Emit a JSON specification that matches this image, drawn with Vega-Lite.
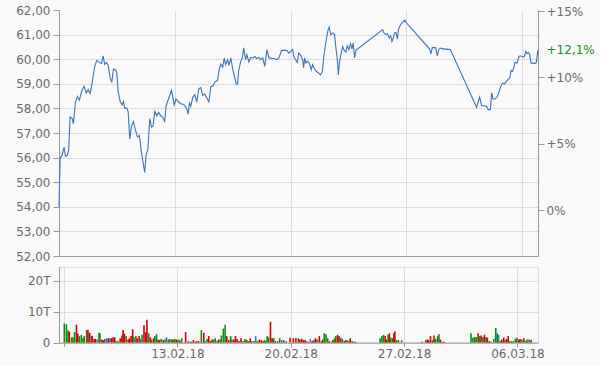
{
  "$schema": "https://vega.github.io/schema/vega-lite/v6.json",
  "background": "#f9f9f9",
  "padding": {"left": 15, "top": 4, "right": 5, "bottom": 5},
  "spacing": 4,
  "config": {
    "font": "DejaVu Sans",
    "view": {"stroke": null},
    "axis": {"labelFont": "DejaVu Sans", "labelFontSize": 12, "labelColor": "#6a6a6a", "gridColor": "#dcdcdc", "domainColor": "#999999", "tickColor": "#999999", "title": null, "labelPadding": 3, "tickSize": 6}
  },
  "datasets": {
    "price": [
      {"day": 0.0, "price": 54.0}, {"day": 0.07, "price": 56.0}, {"day": 0.19, "price": 56.1}, {"day": 0.31, "price": 56.43}, {"day": 0.39, "price": 56.05}, {"day": 0.51, "price": 56.1}, {"day": 0.59, "price": 56.32}, {"day": 0.67, "price": 57.65}, {"day": 0.79, "price": 57.6}, {"day": 0.87, "price": 57.38}, {"day": 0.99, "price": 58.24}, {"day": 1.11, "price": 58.49}, {"day": 1.23, "price": 58.33}, {"day": 1.4, "price": 58.76}, {"day": 1.52, "price": 58.9}, {"day": 1.64, "price": 58.63}, {"day": 1.76, "price": 58.76}, {"day": 1.88, "price": 58.6}, {"day": 2.0, "price": 59.03}, {"day": 2.16, "price": 59.71}, {"day": 2.28, "price": 59.95}, {"day": 2.44, "price": 59.87}, {"day": 2.57, "price": 59.82}, {"day": 2.67, "price": 60.14}, {"day": 2.76, "price": 59.79}, {"day": 2.87, "price": 59.87}, {"day": 2.97, "price": 59.77}, {"day": 3.09, "price": 59.24}, {"day": 3.19, "price": 59.06}, {"day": 3.29, "price": 59.6}, {"day": 3.41, "price": 59.57}, {"day": 3.49, "price": 59.46}, {"day": 3.58, "price": 58.69}, {"day": 3.7, "price": 58.28}, {"day": 3.82, "price": 58.15}, {"day": 3.9, "price": 58.28}, {"day": 3.97, "price": 58.01}, {"day": 4.1, "price": 58.01}, {"day": 4.18, "price": 57.88}, {"day": 4.28, "price": 56.76}, {"day": 4.38, "price": 57.27}, {"day": 4.5, "price": 57.47}, {"day": 4.62, "price": 57.13}, {"day": 4.74, "price": 56.84}, {"day": 4.86, "price": 56.9}, {"day": 4.99, "price": 56.19}, {"day": 5.09, "price": 55.78}, {"day": 5.18, "price": 55.4}, {"day": 5.27, "price": 56.12}, {"day": 5.37, "price": 56.32}, {"day": 5.49, "price": 57.59}, {"day": 5.59, "price": 57.24}, {"day": 5.69, "price": 57.29}, {"day": 5.79, "price": 57.88}, {"day": 5.91, "price": 57.7}, {"day": 6.03, "price": 57.84}, {"day": 6.15, "price": 57.7}, {"day": 6.27, "price": 57.65}, {"day": 6.39, "price": 57.47}, {"day": 6.47, "price": 58.08}, {"day": 6.6, "price": 58.35}, {"day": 6.8, "price": 58.73}, {"day": 6.88, "price": 58.46}, {"day": 6.96, "price": 58.15}, {"day": 7.08, "price": 58.38}, {"day": 7.21, "price": 58.28}, {"day": 7.36, "price": 58.18}, {"day": 7.48, "price": 58.18}, {"day": 7.6, "price": 58.12}, {"day": 7.73, "price": 57.98}, {"day": 7.81, "price": 57.77}, {"day": 7.89, "price": 58.22}, {"day": 7.97, "price": 58.1}, {"day": 8.09, "price": 58.45}, {"day": 8.21, "price": 58.56}, {"day": 8.33, "price": 58.26}, {"day": 8.45, "price": 58.8}, {"day": 8.57, "price": 58.85}, {"day": 8.69, "price": 58.53}, {"day": 8.81, "price": 58.58}, {"day": 8.94, "price": 58.42}, {"day": 9.06, "price": 58.26}, {"day": 9.18, "price": 58.9}, {"day": 9.3, "price": 58.9}, {"day": 9.42, "price": 59.07}, {"day": 9.58, "price": 59.13}, {"day": 9.7, "price": 59.64}, {"day": 9.78, "price": 59.8}, {"day": 9.9, "price": 59.67}, {"day": 9.99, "price": 60.05}, {"day": 10.07, "price": 59.78}, {"day": 10.19, "price": 59.98}, {"day": 10.27, "price": 59.75}, {"day": 10.39, "price": 60.05}, {"day": 10.51, "price": 59.57}, {"day": 10.63, "price": 59.24}, {"day": 10.71, "price": 58.99}, {"day": 10.79, "price": 58.99}, {"day": 10.87, "price": 59.57}, {"day": 10.99, "price": 59.91}, {"day": 11.08, "price": 60.05}, {"day": 11.17, "price": 60.46}, {"day": 11.28, "price": 59.98}, {"day": 11.36, "price": 60.18}, {"day": 11.48, "price": 59.89}, {"day": 11.6, "price": 60.07}, {"day": 11.72, "price": 60.05}, {"day": 11.84, "price": 60.11}, {"day": 11.96, "price": 60.03}, {"day": 12.08, "price": 60.07}, {"day": 12.2, "price": 59.98}, {"day": 12.32, "price": 60.05}, {"day": 12.44, "price": 59.71}, {"day": 12.57, "price": 60.39}, {"day": 12.69, "price": 60.07}, {"day": 12.85, "price": 60.03}, {"day": 13.01, "price": 60.03}, {"day": 13.17, "price": 59.98}, {"day": 13.29, "price": 60.05}, {"day": 13.46, "price": 60.35}, {"day": 13.62, "price": 60.37}, {"day": 13.78, "price": 60.35}, {"day": 13.9, "price": 60.25}, {"day": 14.0, "price": 60.32}, {"day": 14.12, "price": 60.39}, {"day": 14.2, "price": 60.11}, {"day": 14.28, "price": 60.0}, {"day": 14.41, "price": 59.87}, {"day": 14.49, "price": 60.25}, {"day": 14.6, "price": 60.18}, {"day": 14.73, "price": 59.98}, {"day": 14.79, "price": 59.64}, {"day": 14.85, "price": 60.05}, {"day": 14.93, "price": 59.84}, {"day": 15.01, "price": 59.91}, {"day": 15.13, "price": 59.84}, {"day": 15.25, "price": 59.57}, {"day": 15.33, "price": 59.78}, {"day": 15.45, "price": 59.6}, {"day": 15.57, "price": 59.5}, {"day": 15.69, "price": 59.44}, {"day": 15.81, "price": 59.36}, {"day": 15.92, "price": 59.5}, {"day": 16.01, "price": 60.11}, {"day": 16.14, "price": 60.72}, {"day": 16.26, "price": 61.17}, {"day": 16.34, "price": 61.31}, {"day": 16.42, "price": 61.0}, {"day": 16.54, "price": 61.07}, {"day": 16.66, "price": 61.0}, {"day": 16.74, "price": 60.46}, {"day": 16.83, "price": 59.98}, {"day": 16.89, "price": 59.36}, {"day": 16.95, "price": 59.84}, {"day": 17.02, "price": 60.11}, {"day": 17.15, "price": 60.52}, {"day": 17.22, "price": 60.39}, {"day": 17.35, "price": 60.29}, {"day": 17.43, "price": 60.55}, {"day": 17.53, "price": 60.39}, {"day": 17.63, "price": 60.63}, {"day": 17.71, "price": 60.41}, {"day": 17.79, "price": 60.66}, {"day": 17.87, "price": 60.05}, {"day": 17.95, "price": 60.36}, {"day": 19.57, "price": 61.2}, {"day": 19.64, "price": 61.07}, {"day": 19.77, "price": 61.0}, {"day": 19.85, "price": 61.04}, {"day": 19.97, "price": 60.86}, {"day": 20.05, "price": 60.95}, {"day": 20.13, "price": 60.72}, {"day": 20.21, "price": 60.86}, {"day": 20.29, "price": 61.07}, {"day": 20.37, "price": 61.09}, {"day": 20.46, "price": 60.82}, {"day": 20.53, "price": 61.23}, {"day": 20.65, "price": 61.4}, {"day": 20.77, "price": 61.5}, {"day": 20.9, "price": 61.59}, {"day": 21.02, "price": 61.47}, {"day": 21.18, "price": 61.34}, {"day": 22.41, "price": 60.41}, {"day": 22.49, "price": 60.22}, {"day": 22.57, "price": 60.48}, {"day": 22.69, "price": 60.46}, {"day": 22.77, "price": 60.48}, {"day": 22.87, "price": 60.14}, {"day": 22.97, "price": 60.41}, {"day": 23.09, "price": 60.45}, {"day": 23.26, "price": 60.41}, {"day": 23.45, "price": 60.41}, {"day": 23.66, "price": 60.39}, {"day": 25.25, "price": 58.04}, {"day": 25.35, "price": 58.28}, {"day": 25.43, "price": 58.46}, {"day": 25.56, "price": 58.11}, {"day": 25.68, "price": 58.11}, {"day": 25.84, "price": 58.08}, {"day": 25.96, "price": 57.95}, {"day": 26.08, "price": 57.95}, {"day": 26.16, "price": 58.63}, {"day": 26.24, "price": 58.38}, {"day": 26.36, "price": 58.38}, {"day": 26.48, "price": 58.46}, {"day": 26.6, "price": 58.65}, {"day": 26.69, "price": 58.87}, {"day": 26.81, "price": 59.03}, {"day": 26.93, "price": 59.0}, {"day": 27.05, "price": 59.1}, {"day": 27.17, "price": 59.19}, {"day": 27.25, "price": 59.23}, {"day": 27.33, "price": 59.55}, {"day": 27.41, "price": 59.5}, {"day": 27.49, "price": 59.64}, {"day": 27.57, "price": 59.87}, {"day": 27.69, "price": 59.84}, {"day": 27.81, "price": 60.11}, {"day": 27.9, "price": 60.14}, {"day": 28.02, "price": 60.09}, {"day": 28.14, "price": 60.11}, {"day": 28.22, "price": 60.32}, {"day": 28.3, "price": 60.23}, {"day": 28.38, "price": 60.28}, {"day": 28.46, "price": 60.18}, {"day": 28.54, "price": 59.84}, {"day": 28.66, "price": 59.84}, {"day": 28.78, "price": 59.82}, {"day": 28.86, "price": 59.87}, {"day": 28.95, "price": 60.37}
    ],
    "last": [{"day": 28.96, "pct": 12.1, "label": "+12,1%"}],
    "volume": [
      {"day": 0.02, "vol": 6200, "dir": "up"}, {"day": 0.15, "vol": 5900, "dir": "up"}, {"day": 0.25, "vol": 3900, "dir": "up"}, {"day": 0.33, "vol": 3500, "dir": "down"}, {"day": 0.47, "vol": 1700, "dir": "up"}, {"day": 0.55, "vol": 1700, "dir": "up"}, {"day": 0.65, "vol": 3400, "dir": "up"}, {"day": 0.77, "vol": 5800, "dir": "down"}, {"day": 0.85, "vol": 2900, "dir": "down"}, {"day": 0.95, "vol": 2100, "dir": "up"}, {"day": 1.07, "vol": 2500, "dir": "up"}, {"day": 1.17, "vol": 1400, "dir": "up"}, {"day": 1.25, "vol": 2100, "dir": "up"}, {"day": 1.4, "vol": 4100, "dir": "up"}, {"day": 1.48, "vol": 4100, "dir": "down"}, {"day": 1.58, "vol": 3200, "dir": "down"}, {"day": 1.68, "vol": 2300, "dir": "flat"}, {"day": 1.74, "vol": 2100, "dir": "down"}, {"day": 1.86, "vol": 1200, "dir": "down"}, {"day": 1.94, "vol": 1200, "dir": "down"}, {"day": 2.04, "vol": 1000, "dir": "flat"}, {"day": 2.16, "vol": 3200, "dir": "up"}, {"day": 2.22, "vol": 3000, "dir": "up"}, {"day": 2.34, "vol": 1000, "dir": "down"}, {"day": 2.43, "vol": 800, "dir": "down"}, {"day": 2.52, "vol": 1200, "dir": "up"}, {"day": 2.63, "vol": 1400, "dir": "flat"}, {"day": 2.73, "vol": 1400, "dir": "down"}, {"day": 2.83, "vol": 1400, "dir": "flat"}, {"day": 2.93, "vol": 1400, "dir": "down"}, {"day": 3.03, "vol": 1700, "dir": "down"}, {"day": 3.13, "vol": 1700, "dir": "down"}, {"day": 3.23, "vol": 500, "dir": "up"}, {"day": 3.35, "vol": 500, "dir": "up"}, {"day": 3.47, "vol": 1400, "dir": "down"}, {"day": 3.58, "vol": 2300, "dir": "down"}, {"day": 3.65, "vol": 4100, "dir": "down"}, {"day": 3.73, "vol": 2900, "dir": "down"}, {"day": 3.84, "vol": 2100, "dir": "up"}, {"day": 3.96, "vol": 1000, "dir": "down"}, {"day": 4.04, "vol": 1400, "dir": "down"}, {"day": 4.14, "vol": 2100, "dir": "down"}, {"day": 4.24, "vol": 4300, "dir": "down"}, {"day": 4.32, "vol": 1700, "dir": "up"}, {"day": 4.44, "vol": 2100, "dir": "up"}, {"day": 4.52, "vol": 1400, "dir": "down"}, {"day": 4.64, "vol": 2100, "dir": "down"}, {"day": 4.73, "vol": 1200, "dir": "flat"}, {"day": 4.82, "vol": 2500, "dir": "up"}, {"day": 4.94, "vol": 5600, "dir": "down"}, {"day": 5.05, "vol": 3400, "dir": "down"}, {"day": 5.12, "vol": 7400, "dir": "down"}, {"day": 5.23, "vol": 3000, "dir": "up"}, {"day": 5.33, "vol": 1700, "dir": "down"}, {"day": 5.41, "vol": 1000, "dir": "up"}, {"day": 5.53, "vol": 1400, "dir": "down"}, {"day": 5.61, "vol": 2100, "dir": "up"}, {"day": 5.71, "vol": 2700, "dir": "up"}, {"day": 5.81, "vol": 1000, "dir": "down"}, {"day": 5.89, "vol": 800, "dir": "down"}, {"day": 6.0, "vol": 1200, "dir": "up"}, {"day": 6.13, "vol": 800, "dir": "down"}, {"day": 6.24, "vol": 1000, "dir": "up"}, {"day": 6.33, "vol": 1700, "dir": "flat"}, {"day": 6.44, "vol": 1000, "dir": "up"}, {"day": 6.54, "vol": 1200, "dir": "up"}, {"day": 6.66, "vol": 1000, "dir": "down"}, {"day": 6.74, "vol": 1000, "dir": "up"}, {"day": 6.84, "vol": 1200, "dir": "up"}, {"day": 6.94, "vol": 1000, "dir": "down"}, {"day": 7.04, "vol": 1000, "dir": "up"}, {"day": 7.15, "vol": 800, "dir": "up"}, {"day": 7.27, "vol": 1400, "dir": "up"}, {"day": 7.51, "vol": 3400, "dir": "down"}, {"day": 7.67, "vol": 500, "dir": "flat"}, {"day": 7.77, "vol": 300, "dir": "up"}, {"day": 7.87, "vol": 300, "dir": "down"}, {"day": 7.99, "vol": 800, "dir": "down"}, {"day": 8.09, "vol": 300, "dir": "up"}, {"day": 8.19, "vol": 500, "dir": "down"}, {"day": 8.31, "vol": 500, "dir": "down"}, {"day": 8.48, "vol": 4000, "dir": "up"}, {"day": 8.63, "vol": 3200, "dir": "down"}, {"day": 8.72, "vol": 500, "dir": "flat"}, {"day": 8.84, "vol": 1200, "dir": "up"}, {"day": 8.94, "vol": 2100, "dir": "down"}, {"day": 9.04, "vol": 500, "dir": "down"}, {"day": 9.14, "vol": 1000, "dir": "down"}, {"day": 9.24, "vol": 1000, "dir": "up"}, {"day": 9.34, "vol": 1400, "dir": "up"}, {"day": 9.44, "vol": 500, "dir": "flat"}, {"day": 9.54, "vol": 1000, "dir": "down"}, {"day": 9.64, "vol": 1000, "dir": "up"}, {"day": 9.72, "vol": 2300, "dir": "up"}, {"day": 9.84, "vol": 4500, "dir": "up"}, {"day": 9.95, "vol": 5800, "dir": "up"}, {"day": 10.05, "vol": 2100, "dir": "down"}, {"day": 10.17, "vol": 800, "dir": "down"}, {"day": 10.29, "vol": 2100, "dir": "up"}, {"day": 10.37, "vol": 1000, "dir": "up"}, {"day": 10.49, "vol": 1000, "dir": "down"}, {"day": 10.59, "vol": 2100, "dir": "down"}, {"day": 10.69, "vol": 1200, "dir": "down"}, {"day": 10.81, "vol": 500, "dir": "down"}, {"day": 10.93, "vol": 1400, "dir": "down"}, {"day": 11.05, "vol": 500, "dir": "up"}, {"day": 11.17, "vol": 1200, "dir": "up"}, {"day": 11.28, "vol": 800, "dir": "down"}, {"day": 11.38, "vol": 500, "dir": "up"}, {"day": 11.5, "vol": 1400, "dir": "down"}, {"day": 11.6, "vol": 500, "dir": "up"}, {"day": 11.74, "vol": 500, "dir": "up"}, {"day": 11.84, "vol": 2100, "dir": "flat"}, {"day": 11.94, "vol": 500, "dir": "up"}, {"day": 12.06, "vol": 1000, "dir": "down"}, {"day": 12.18, "vol": 800, "dir": "down"}, {"day": 12.29, "vol": 500, "dir": "down"}, {"day": 12.38, "vol": 800, "dir": "up"}, {"day": 12.47, "vol": 500, "dir": "up"}, {"day": 12.55, "vol": 2100, "dir": "up"}, {"day": 12.63, "vol": 1700, "dir": "up"}, {"day": 12.75, "vol": 6700, "dir": "down"}, {"day": 12.85, "vol": 1400, "dir": "down"}, {"day": 12.95, "vol": 1400, "dir": "up"}, {"day": 13.05, "vol": 500, "dir": "down"}, {"day": 13.2, "vol": 500, "dir": "up"}, {"day": 13.32, "vol": 1400, "dir": "up"}, {"day": 13.44, "vol": 800, "dir": "flat"}, {"day": 13.56, "vol": 800, "dir": "down"}, {"day": 13.72, "vol": 500, "dir": "up"}, {"day": 13.96, "vol": 1600, "dir": "down"}, {"day": 14.16, "vol": 1400, "dir": "down"}, {"day": 14.32, "vol": 1400, "dir": "down"}, {"day": 14.47, "vol": 1400, "dir": "up"}, {"day": 14.56, "vol": 1000, "dir": "down"}, {"day": 14.68, "vol": 1200, "dir": "down"}, {"day": 14.79, "vol": 800, "dir": "down"}, {"day": 14.89, "vol": 800, "dir": "down"}, {"day": 14.97, "vol": 500, "dir": "flat"}, {"day": 15.09, "vol": 300, "dir": "down"}, {"day": 15.21, "vol": 1200, "dir": "flat"}, {"day": 15.33, "vol": 500, "dir": "down"}, {"day": 15.43, "vol": 800, "dir": "up"}, {"day": 15.53, "vol": 1400, "dir": "down"}, {"day": 15.63, "vol": 1000, "dir": "up"}, {"day": 15.77, "vol": 2100, "dir": "down"}, {"day": 15.89, "vol": 500, "dir": "up"}, {"day": 15.98, "vol": 1000, "dir": "down"}, {"day": 16.07, "vol": 3000, "dir": "up"}, {"day": 16.18, "vol": 2700, "dir": "up"}, {"day": 16.28, "vol": 1400, "dir": "up"}, {"day": 16.38, "vol": 500, "dir": "down"}, {"day": 16.5, "vol": 300, "dir": "flat"}, {"day": 16.6, "vol": 800, "dir": "down"}, {"day": 16.7, "vol": 1400, "dir": "up"}, {"day": 16.78, "vol": 2100, "dir": "up"}, {"day": 16.89, "vol": 2500, "dir": "down"}, {"day": 16.98, "vol": 2100, "dir": "down"}, {"day": 17.09, "vol": 1600, "dir": "up"}, {"day": 17.19, "vol": 1200, "dir": "up"}, {"day": 17.31, "vol": 500, "dir": "down"}, {"day": 17.41, "vol": 800, "dir": "down"}, {"day": 17.51, "vol": 800, "dir": "flat"}, {"day": 17.61, "vol": 500, "dir": "up"}, {"day": 17.67, "vol": 1400, "dir": "down"}, {"day": 17.79, "vol": 500, "dir": "up"}, {"day": 17.91, "vol": 300, "dir": "down"}, {"day": 17.99, "vol": 300, "dir": "up"}, {"day": 19.52, "vol": 1400, "dir": "up"}, {"day": 19.63, "vol": 2100, "dir": "up"}, {"day": 19.73, "vol": 2500, "dir": "up"}, {"day": 19.83, "vol": 2100, "dir": "down"}, {"day": 19.91, "vol": 1000, "dir": "down"}, {"day": 20.01, "vol": 2500, "dir": "up"}, {"day": 20.09, "vol": 3000, "dir": "down"}, {"day": 20.17, "vol": 1600, "dir": "up"}, {"day": 20.27, "vol": 1400, "dir": "up"}, {"day": 20.37, "vol": 3000, "dir": "down"}, {"day": 20.43, "vol": 3600, "dir": "down"}, {"day": 20.53, "vol": 800, "dir": "up"}, {"day": 20.65, "vol": 800, "dir": "up"}, {"day": 20.85, "vol": 800, "dir": "flat"}, {"day": 22.12, "vol": 300, "dir": "down"}, {"day": 22.33, "vol": 800, "dir": "up"}, {"day": 22.43, "vol": 1000, "dir": "down"}, {"day": 22.51, "vol": 800, "dir": "down"}, {"day": 22.63, "vol": 2100, "dir": "down"}, {"day": 22.75, "vol": 800, "dir": "up"}, {"day": 22.85, "vol": 2300, "dir": "down"}, {"day": 22.95, "vol": 1200, "dir": "up"}, {"day": 23.07, "vol": 2100, "dir": "up"}, {"day": 23.15, "vol": 2700, "dir": "up"}, {"day": 23.24, "vol": 1000, "dir": "down"}, {"day": 23.36, "vol": 300, "dir": "down"}, {"day": 23.48, "vol": 300, "dir": "up"}, {"day": 25.13, "vol": 3000, "dir": "up"}, {"day": 25.25, "vol": 1600, "dir": "up"}, {"day": 25.36, "vol": 1800, "dir": "up"}, {"day": 25.45, "vol": 1800, "dir": "up"}, {"day": 25.57, "vol": 3000, "dir": "down"}, {"day": 25.66, "vol": 2100, "dir": "up"}, {"day": 25.75, "vol": 2300, "dir": "down"}, {"day": 25.86, "vol": 1800, "dir": "up"}, {"day": 25.96, "vol": 2500, "dir": "down"}, {"day": 26.06, "vol": 1800, "dir": "up"}, {"day": 26.14, "vol": 1600, "dir": "down"}, {"day": 26.26, "vol": 500, "dir": "down"}, {"day": 26.38, "vol": 300, "dir": "up"}, {"day": 26.54, "vol": 1200, "dir": "up"}, {"day": 26.66, "vol": 4700, "dir": "up"}, {"day": 26.75, "vol": 3000, "dir": "up"}, {"day": 26.84, "vol": 2500, "dir": "flat"}, {"day": 26.95, "vol": 500, "dir": "up"}, {"day": 27.03, "vol": 1000, "dir": "down"}, {"day": 27.15, "vol": 1600, "dir": "down"}, {"day": 27.23, "vol": 800, "dir": "up"}, {"day": 27.33, "vol": 1200, "dir": "down"}, {"day": 27.43, "vol": 2100, "dir": "down"}, {"day": 27.51, "vol": 500, "dir": "up"}, {"day": 27.63, "vol": 500, "dir": "up"}, {"day": 27.75, "vol": 500, "dir": "up"}, {"day": 27.87, "vol": 1200, "dir": "up"}, {"day": 27.96, "vol": 1600, "dir": "up"}, {"day": 28.08, "vol": 1000, "dir": "down"}, {"day": 28.16, "vol": 1200, "dir": "down"}, {"day": 28.28, "vol": 1000, "dir": "up"}, {"day": 28.4, "vol": 1400, "dir": "down"}, {"day": 28.52, "vol": 500, "dir": "up"}, {"day": 28.6, "vol": 1000, "dir": "up"}, {"day": 28.72, "vol": 1000, "dir": "up"}, {"day": 28.84, "vol": 800, "dir": "down"}
    ]
  },
  "vconcat": [
    {
      "width": 479,
      "height": 246,
      "encoding": {
        "x": {"field": "day", "type": "quantitative", "scale": {"domain": [0, 28.96], "nice": false, "zero": false}, "axis": {"values": [7, 14, 21, 28], "labels": false, "ticks": false, "grid": true, "title": null}}
      },
      "layer": [
        {
          "data": {"name": "price"},
          "mark": {"type": "line", "color": "#3b76b3", "strokeWidth": 1.1},
          "encoding": {
            "y": {"field": "price", "type": "quantitative", "scale": {"domain": [52, 62], "nice": false, "zero": false}, "axis": {"orient": "left", "values": [52, 53, 54, 55, 56, 57, 58, 59, 60, 61, 62], "labelExpr": "replace(format(datum.value, '.2f'), '.', ',')", "grid": true, "gridOpacity": {"condition": {"test": "datum.value == 62", "value": 0}, "value": 1}, "title": null}}
          }
        },
        {
          "data": {"name": "last"},
          "mark": {"type": "text", "align": "left", "baseline": "middle", "dx": 8.5, "color": "#1a8a1a", "fontSize": 12, "font": "DejaVu Sans"},
          "encoding": {
            "y": {"field": "pct", "type": "quantitative", "scale": {"domain": [-3.47, 15.09], "nice": false, "zero": false}, "axis": {"orient": "right", "values": [0, 5, 10, 15], "labelExpr": "datum.value > 0 ? '+' + datum.value + '%' : datum.value + '%'", "grid": false, "labelPadding": 2, "title": null}},
            "text": {"field": "label"}
          }
        }
      ],
      "resolve": {"scale": {"y": "independent"}}
    },
    {
      "width": 479,
      "height": 75.6,
      "view": {"stroke": "#dcdcdc"},
      "data": {"name": "volume"},
      "mark": {"type": "bar", "size": 1.6},
      "encoding": {
        "x": {"field": "day", "type": "quantitative", "scale": {"domain": [0, 28.96], "nice": false, "zero": false}, "axis": {"values": [0, 7, 14, 21, 28], "labelExpr": "datum.value == 0 ? '' : timeFormat(datetime(2018, 1, 6 + datum.value), '%d.%m.%y')", "grid": true, "tickSize": 4, "labelPadding": 2, "title": null}},
        "y": {"field": "vol", "type": "quantitative", "scale": {"domain": [0, 24400], "nice": false}, "axis": {"values": [0, 10000, 20000], "labelExpr": "datum.value == 0 ? '0' : (datum.value / 1000) + 'T'", "grid": true, "title": null}},
        "color": {"field": "dir", "type": "nominal", "scale": {"domain": ["up", "down", "flat"], "range": ["#128a12", "#d40000", "#3b7bbd"]}, "legend": null}
      }
    }
  ]
}
